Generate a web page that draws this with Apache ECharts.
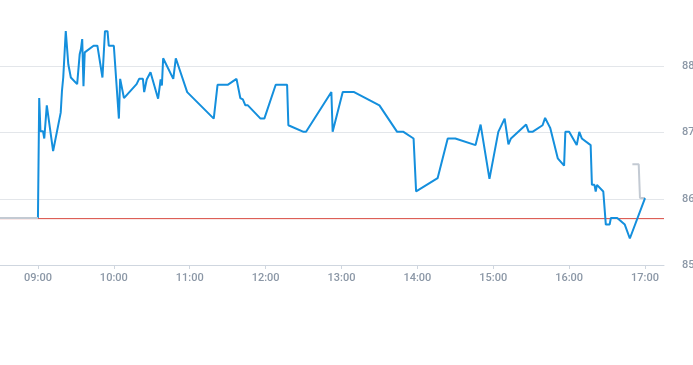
<!DOCTYPE html>
<html>
<head>
<meta charset="utf-8">
<script src="https://cdn.jsdelivr.net/npm/echarts@6/dist/echarts.min.js"></script>
<style>html,body{margin:0;padding:0;background:#fff}#c{width:693px;height:365px}</style>
</head>
<body>
<div id="c"></div>
<script>
const times = ["09:00","09:01","09:02","09:04","09:05","09:07","09:12","09:18","09:19","09:20","09:22","09:24","09:26","09:31","09:32","09:33","09:34","09:35","09:36","09:37","09:44","09:47","09:51","09:53","09:55","09:56","10:00","10:04","10:05","10:08","10:18","10:20","10:23","10:24","10:26","10:29","10:35","10:37","10:38","10:39","10:47","10:49","10:50","10:58","11:19","11:22","11:30","11:37","11:40","11:42","11:44","11:46","11:56","11:59","12:08","12:17","12:18","12:30","12:32","12:52","12:53","13:01","13:10","13:30","13:44","13:49","13:57","13:59","14:16","14:24","14:30","14:46","14:50","14:57","15:04","15:09","15:12","15:14","15:26","15:28","15:31","15:39","15:41","15:42","15:45","15:51","15:56","15:57","16:00","16:06","16:08","16:10","16:11","16:17","16:18","16:20","16:21","16:22","16:27","16:29","16:32","16:33","16:38","16:44","16:48","17:00"];
const prices = [85.71,87.52,87.02,87.02,86.91,87.41,86.72,87.30,87.63,87.83,88.53,88.03,87.83,87.73,87.70,88.18,88.26,88.41,87.70,88.21,88.31,88.31,87.83,88.53,88.53,88.31,88.31,87.21,87.81,87.52,87.73,87.81,87.81,87.61,87.80,87.91,87.51,87.80,87.71,88.12,87.81,88.12,88.12,87.61,87.21,87.72,87.72,87.81,87.52,87.50,87.41,87.41,87.21,87.21,87.72,87.72,87.11,87.01,87.01,87.61,87.01,87.61,87.61,87.41,87.01,87.01,86.91,86.11,86.31,86.91,86.91,86.81,87.12,86.30,87.01,87.21,86.82,86.91,87.12,87.01,87.01,87.11,87.22,87.21,87.07,86.61,86.50,87.01,87.01,86.81,87.01,86.91,86.88,86.81,86.21,86.21,86.11,86.21,86.11,85.61,85.61,85.71,85.71,85.61,85.40,86.01];
const preTimes = ["08:30","09:00"];
const prePrices = [85.71,85.71];
const postTimes = ["16:50","16:55","16:56","17:00"];
const postPrices = [86.52,86.52,86.01,86.01];
const prevClose = 85.70;
const tickLabels = ["09:00","10:00","11:00","12:00","13:00","14:00","15:00","16:00","17:00"];
const axisStart = "08:30", axisEnd = "17:15";
const yTicks = [85,86,87,88];

const toMin = s => { const [h,m] = s.split(":").map(Number); return h*60+m; };
const pad = n => String(n).padStart(2,"0");
const toLabel = v => pad(Math.floor(v/60)) + ":" + pad(v%60);
const zip = (t,p) => t.map((s,i)=>[toMin(s),p[i]]);

const chart = echarts.init(document.getElementById('c'));
chart.setOption({
  animation:false,
  grid:{left:0,right:29,top:0,bottom:100,containLabel:false,outerBoundsMode:'none'},
  xAxis:{
    type:'value', min:toMin(axisStart), max:toMin(axisEnd),
    axisLine:{show:true,lineStyle:{color:'#cfd6df',width:1}},
    axisTick:{show:true,length:4,lineStyle:{color:'#cfd6df'},customValues:tickLabels.map(toMin)},
    axisLabel:{color:'#8b97a6',fontSize:11,fontFamily:'Roboto, sans-serif',fontWeight:500,margin:8,customValues:tickLabels.map(toMin),formatter:v=>toLabel(v)},
    splitLine:{show:false}
  },
  yAxis:{
    type:'value', position:'right', min:85, max:89, interval:1,
    axisLine:{show:false}, axisTick:{show:false},
    axisLabel:{color:'#8b97a6',fontSize:11,fontFamily:'Roboto, sans-serif',fontWeight:500,margin:18,showMaxLabel:false,
      formatter:v=> yTicks.includes(v) ? String(v) : ''},
    splitLine:{show:true,showMaxLine:false,lineStyle:{color:'#e3e6ea',width:1}}
  },
  series:[
    {type:'line',data:[[toMin(axisStart),prevClose],[toMin(axisEnd),prevClose]],showSymbol:false,symbol:'none',z:1,silent:true,
     lineStyle:{color:'#d8493f',width:1}},
    {type:'line',data:zip(times,prices),showSymbol:false,symbol:'none',z:2,
     lineStyle:{color:'#148fdd',width:2},itemStyle:{color:'#148fdd'}},
    {type:'line',data:zip(preTimes,prePrices),showSymbol:false,symbol:'none',z:3,
     lineStyle:{color:'#c3cad3',width:2}},
    {type:'line',data:zip(postTimes,postPrices),showSymbol:false,symbol:'none',z:1,
     lineStyle:{color:'#c3cad3',width:2}}
  ]
});
</script>
</body>
</html>
